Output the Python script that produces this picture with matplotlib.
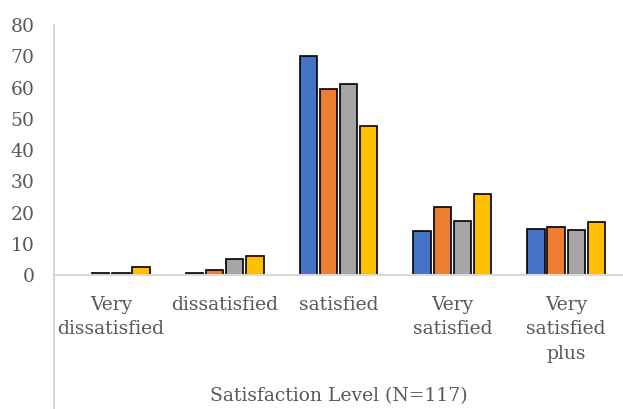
import numpy as np
import matplotlib.pyplot as plt

# valores (%)
categorias = ['Very\ndissatisfied', 'dissatisfied', 'satisfied', 'Very\nsatisfied', 'Very\nsatisfied\nplus']
serie_azul = [0.0, 0.85, 70.0, 14.3, 14.9]
serie_laranja = [0.85, 1.8, 59.5, 21.8, 15.5]
serie_cinza = [0.85, 5.3, 61.0, 17.5, 14.6]
serie_amarela = [2.6, 6.1, 47.6, 25.9, 17.1]
cores = ['#4472C4', '#ED7D31', '#A5A5A5', '#FFC000']
ticks_y = [0, 10, 20, 30, 40, 50, 60, 70, 80]

plt.rcParams['font.family'] = ['DejaVu Serif']

fig = plt.figure(figsize=(6.23, 4.09), dpi=100)
ax = fig.add_axes([54 / 623, (409 - 275.3) / 409, 1 - 54 / 623, 250.3 / 409])

x = np.arange(len(categorias))
largura = 0.177
series = [serie_azul, serie_laranja, serie_cinza, serie_amarela]
for i, (valores, cor) in enumerate(zip(series, cores)):
    pos = x + (i - 1.5) * largura
    ax.bar(pos, valores, width=largura * 0.86, color=cor, edgecolor='black', linewidth=1.2, zorder=3)

ax.set_xlim(-0.5, len(categorias) - 0.5)
ax.set_ylim(0, 80)
ax.set_yticks(ticks_y)
ax.set_xticks(x)
ax.set_xticklabels(categorias, linespacing=1.45)
ax.tick_params(axis='both', length=0, labelsize=13.5, labelcolor='#595959')
ax.tick_params(axis='y', pad=14)
ax.tick_params(axis='x', pad=15)

for lado in ['top', 'right']:
    ax.spines[lado].set_visible(False)
ax.spines['left'].set_color('#D0D0D0')
ax.spines['left'].set_linewidth(1.2)
ax.spines['bottom'].set_color('#D9D9D9')
ax.spines['bottom'].set_linewidth(1.5)
ax.spines['bottom'].set_zorder(4)

# linha vertical do eixo estendida até a borda inferior
ax.plot([0, 0], [0, -0.6], transform=ax.transAxes, color='#D0D0D0', lw=1.2, clip_on=False)

fig.text(339 / 623, 1 - 401.5 / 409, 'Satisfaction Level (N=117)', ha='center', va='baseline',
         fontsize=13.5, color='#595959')

fig.savefig('out.png', dpi=100)
